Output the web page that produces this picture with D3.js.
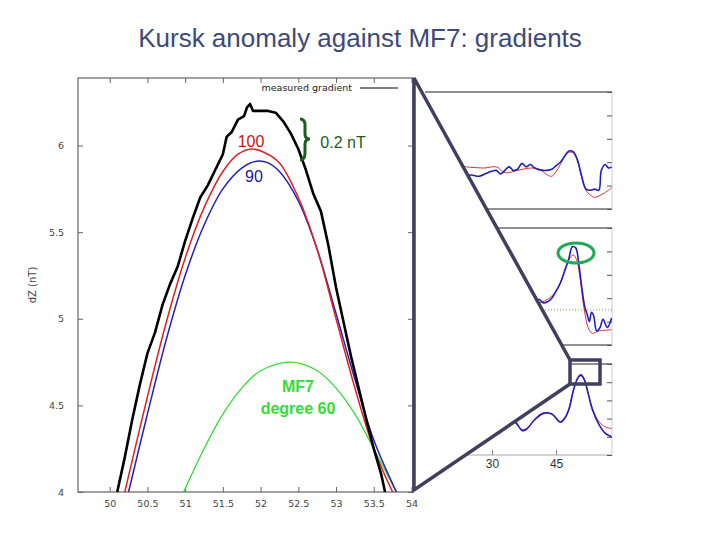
<!DOCTYPE html>
<html><head><meta charset="utf-8">
<script src="https://cdn.jsdelivr.net/npm/d3@7"></script>
<style>body{margin:0;background:#fff}</style>
</head><body>
<svg id="chart" width="720" height="540"></svg>
<script>
// main plot curves [lat, dZ]
var measured = [[50.1,4],[50.2,4.2],[50.3,4.42],[50.4,4.62],[50.5,4.8],[50.6,4.92],[50.7,5.08],[50.8,5.2],[50.9,5.3],[51,5.45],[51.1,5.58],[51.2,5.7],[51.3,5.77],[51.4,5.86],[51.5,5.95],[51.55,6.05],[51.62,6.08],[51.7,6.15],[51.78,6.17],[51.82,6.22],[51.86,6.24],[51.9,6.2],[52,6.2],[52.1,6.2],[52.2,6.19],[52.3,6.14],[52.4,6.07],[52.5,5.98],[52.6,5.86],[52.7,5.72],[52.8,5.62],[52.9,5.42],[53,5.18],[53.1,4.98],[53.2,4.78],[53.3,4.6],[53.4,4.42],[53.5,4.25],[53.6,4.1],[53.65,4.0]];
var deg100 = [[50.2,4],[50.5,4.55],[50.75,4.98],[51,5.35],[51.25,5.64],[51.5,5.85],[51.7,5.95],[51.88,5.98],[52.05,5.96],[52.25,5.9],[52.5,5.7],[52.75,5.4],[53,5.0],[53.25,4.6],[53.5,4.25],[53.75,4.0]];
var deg90 = [[50.25,4],[50.5,4.45],[50.75,4.88],[51,5.25],[51.25,5.54],[51.5,5.75],[51.75,5.87],[51.95,5.91],[52.1,5.9],[52.25,5.85],[52.5,5.68],[52.75,5.4],[53,5.03],[53.25,4.65],[53.5,4.3],[53.8,4.0]];
var mf7 = [[50.98,4],[51.25,4.25],[51.5,4.45],[51.75,4.6],[52,4.7],[52.4,4.75],[52.75,4.7],[53,4.6],[53.25,4.45],[53.5,4.25],[53.8,4.0]];
var xTicks = [50,50.5,51,51.5,52,52.5,53,53.5,54];
var yTicks = [4,4.5,5,5.5,6];

// inset panels [x, relative value]
var p1Blue = [[23,2.6],[25,2.9],[27,2.8],[29,3.1],[31,3.3],[32,3.0],[34,3.6],[35,3.3],[36,3.4],[37,3.9],[38,3.6],[39,3.8],[40,3.5],[42,3.3],[44,3.4],[45,3.7],[46,4.0],[47,4.5],[48,4.95],[49,4.9],[50,4.2],[51,2.8],[52,1.7],[53,1.6],[54,1.7],[55,1.6],[55.6,3.3],[56.5,3.8],[57.3,3.5],[58,3.6]];
var p1Red = [[20,3.7],[24,3.6],[28,3.5],[31,3.6],[33,3.1],[36,3.3],[39,3.5],[41,3.4],[43,2.9],[44,2.8],[45,3.2],[46,3.8],[47,4.5],[48,4.85],[49,4.8],[50,4.1],[51,2.7],[52,1.6],[53,1.2],[54,1.0],[56,1.3],[58,1.8]];
var p2Blue = [[38,3.3],[40,3.5],[41,3.9],[42,3.6],[43,3.7],[44,4.0],[45,4.6],[46,5.3],[47,6.3],[48,7.4],[48.8,8.4],[49.6,8.3],[50.3,7],[51,5],[51.7,3.3],[52.3,2.6],[52.8,2.0],[53.3,2.8],[53.8,2.5],[54.5,1.2],[55.3,1.5],[56,2.2],[57,1.5],[58,2.3]];
var p2Red = [[38,3.4],[40,3.5],[43,3.9],[45,4.6],[46,5.3],[47,6.4],[48,7.3],[49,7.7],[49.8,7.3],[50.5,6],[51.2,4],[51.8,2.6],[52.5,1.5],[53.5,1.0],[55,1.2],[58,1.3]];
var p3Blue = [[30,4.0],[34,3.8],[35.5,3.6],[37,2.7],[38,2.8],[40,3.9],[42,4.6],[44,4.5],[46,3.6],[47,4.0],[48,5.0],[49,7.0],[50,8.4],[50.8,8.8],[51.6,8.3],[52.5,6.8],[53.5,5.0],[55,3.4],[56.5,2.4],[58,2.0]];
var p3Red = [[30,4.1],[34,3.9],[35.5,3.5],[37,2.8],[38,2.9],[40,3.8],[42,4.5],[44,4.5],[46,3.7],[47,4.1],[48,5.1],[49,7.0],[50,8.3],[50.8,8.7],[51.6,8.2],[52.5,6.8],[53.5,5.1],[55,3.7],[56.5,3.1],[58,2.9]];
var insetTicks = [30,45];

var svg = d3.select("#chart");

svg.append("text").attr("x",360).attr("y",47).attr("text-anchor","middle")
  .style("font-family","Liberation Sans, Arial").style("font-size","26px").style("fill","#3d4a78")
  .text("Kursk anomaly against MF7: gradients");

// main plot
var L=78, R=413, T=78, B=492;
var x = d3.scaleLinear().domain([49.58,54.02]).range([L,R]);
var y = d3.scaleLinear().domain([4,6.39]).range([B,T]);
var main = svg.append("g");
main.append("defs").append("clipPath").attr("id","mclip").append("rect")
  .attr("x",L).attr("y",T).attr("width",R-L).attr("height",B-T);
main.append("rect").attr("x",L).attr("y",T).attr("width",R-L).attr("height",B-T)
  .attr("fill","none").attr("stroke","#444").attr("stroke-width",1);

var ax = main.append("g").attr("transform","translate(0,"+B+")")
  .call(d3.axisBottom(x).tickValues(xTicks).tickSize(-5).tickPadding(8).tickFormat(d3.format("")));
var axTop = main.append("g").attr("transform","translate(0,"+T+")")
  .call(d3.axisTop(x).tickValues(xTicks).tickSize(-5).tickFormat(""));
var ay = main.append("g").attr("transform","translate("+L+",0)")
  .call(d3.axisLeft(y).tickValues(yTicks).tickSize(-5).tickPadding(14).tickFormat(d3.format("")));
var ayR = main.append("g").attr("transform","translate("+R+",0)")
  .call(d3.axisRight(y).tickValues(yTicks).tickSize(-5).tickFormat(""));
[ax,axTop,ay,ayR].forEach(function(a){
  a.select(".domain").remove();
  a.selectAll("line").attr("stroke","#666");
  a.selectAll("text").style("font-family","DejaVu Sans").style("font-size","9.5px").style("fill","#444");
});
main.append("text").attr("transform","translate(36,285) rotate(-90)").attr("text-anchor","middle")
  .style("font-family","DejaVu Sans").style("font-size","10px").style("fill","#444").text("dZ (nT)");

var line = d3.line().x(d=>x(d[0])).y(d=>y(d[1])).curve(d3.curveCatmullRom);
var curves = main.append("g").attr("clip-path","url(#mclip)");
curves.append("path").datum(mf7).attr("d",line).attr("fill","none").attr("stroke","#33dd33").attr("stroke-width",1.3);
curves.append("path").datum(deg90).attr("d",line).attr("fill","none").attr("stroke","#2222bb").attr("stroke-width",1.5);
curves.append("path").datum(deg100).attr("d",line).attr("fill","none").attr("stroke","#dd2222").attr("stroke-width",1.5);
curves.append("path").datum(measured).attr("d",d3.line().x(d=>x(d[0])).y(d=>y(d[1])).curve(d3.curveLinear))
  .attr("fill","none").attr("stroke","#000").attr("stroke-width",2.6).attr("stroke-linejoin","round");

// legend
main.append("text").attr("x",352).attr("y",91).attr("text-anchor","end")
  .style("font-family","DejaVu Sans").style("font-size","9.5px").style("fill","#222").text("measured gradient");
main.append("line").attr("x1",360).attr("x2",398).attr("y1",88).attr("y2",88).attr("stroke","#000").attr("stroke-width",1.2);

// annotations
function txt(g,t,xx,yy,c,bold){var e=g.append("text").attr("x",xx).attr("y",yy).attr("text-anchor","middle").style("fill",c).text(t)
  .style("font-family","Liberation Sans, Arial").style("font-size","16px"); if(bold) e.style("font-weight","bold"); return e;}
txt(main,"100",251,147,"#cc1111");
txt(main,"90",254,182,"#1a1a99");
txt(main,"0.2 nT",343,148,"#1d5e1d");
main.append("path").attr("d","M300,119 Q305,119 305,125 L305,134 Q305,139 310,139 Q305,139 305,144 L305,153 Q305,160 300,160")
  .attr("fill","none").attr("stroke","#1d5e1d").attr("stroke-width",3);
txt(main,"MF7",298,392,"#33dd33",true);
txt(main,"degree 60",298,414,"#33dd33",true);

// inset panels
var ix = d3.scaleLinear().domain([14.3,58.1]).range([425,612]);
var panels = [
  {top:92,bot:209,blue:p1Blue,red:p1Red},
  {top:228,bot:345,blue:p2Blue,red:p2Red},
  {top:364,bot:455,blue:p3Blue,red:p3Red}
];
panels.forEach(function(p,i){
  var iy = d3.scaleLinear().domain([0,10]).range([p.bot,p.top]);
  var g = svg.append("g");
  var cid="pc"+i;
  g.append("clipPath").attr("id",cid).append("rect").attr("x",425).attr("y",p.top).attr("width",187).attr("height",p.bot-p.top);
  g.append("line").attr("x1",425).attr("x2",612).attr("y1",p.top).attr("y2",p.top).attr("stroke","#222");
  g.append("line").attr("x1",425).attr("x2",612).attr("y1",p.bot).attr("y2",p.bot).attr("stroke",i==2?"#aaa":"#222");
  g.append("line").attr("x1",612).attr("x2",612).attr("y1",p.top).attr("y2",p.bot).attr("stroke","#ccc");
  g.append("g").attr("transform","translate(612,0)")
    .call(d3.axisLeft(iy).ticks(5).tickSize(5).tickFormat(""))
    .call(a=>{a.select(".domain").remove();a.selectAll("line").attr("stroke","#555");});
  if(i==1) g.append("line").attr("x1",425).attr("x2",612).attr("y1",iy(3)).attr("y2",iy(3))
    .attr("stroke","#7a9a5a").attr("stroke-dasharray","1,2");
  var il = d3.line().x(d=>ix(d[0])).y(d=>iy(d[1])).curve(d3.curveCatmullRom);
  var cg = g.append("g").attr("clip-path","url(#"+cid+")");
  cg.append("path").datum(p.red).attr("d",il).attr("fill","none").attr("stroke","#e03030").attr("stroke-width",1);
  cg.append("path").datum(p.blue).attr("d",il).attr("fill","none").attr("stroke","#2020bb").attr("stroke-width",1.6);
  if(i==2){
    g.append("g").attr("transform","translate(0,"+p.bot+")")
      .call(d3.axisTop(ix).tickValues(insetTicks).tickSize(5).tickPadding(-18).tickFormat(d3.format("")))
      .call(a=>{a.select(".domain").remove();a.selectAll("line").attr("stroke","#888");
        a.selectAll("text").style("font-family","Liberation Sans, Arial").style("font-size","12px").style("fill","#333");});
  }
});

// zoom wedge covering insets
svg.append("path").attr("d","M414,78 L570,360 L570,384 L414,490 Z").attr("fill","#fff").attr("stroke","none");
svg.append("path").attr("d","M570,360 L414,78 L414,490 L570,384").attr("fill","none").attr("stroke","#3f3f5f").attr("stroke-width",3.5);
svg.append("rect").attr("x",570).attr("y",360).attr("width",30).attr("height",24).attr("fill","none").attr("stroke","#3f3f5f").attr("stroke-width",3.5);
svg.append("ellipse").attr("cx",576).attr("cy",253).attr("rx",18).attr("ry",10).attr("fill","none").attr("stroke","#1faa55").attr("stroke-width",3);
</script>
</body></html>
